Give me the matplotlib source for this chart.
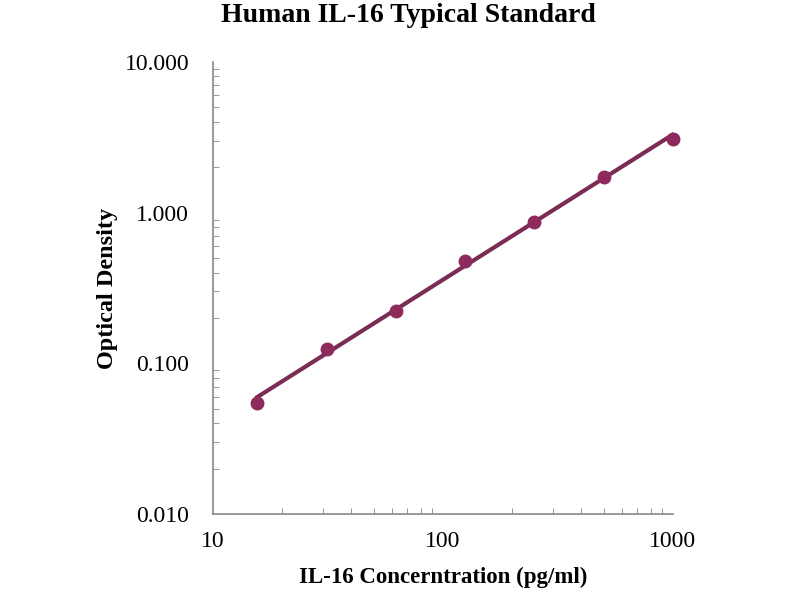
import numpy as np
import matplotlib
matplotlib.use('Agg')
import matplotlib.pyplot as plt
from matplotlib.ticker import FixedLocator, LogLocator, NullFormatter

plt.rcParams['font.family'] = ['Liberation Serif', 'DejaVu Serif']

# standard curve values
conc = [15.6, 31.25, 62.5, 125, 250, 500, 1000]
od = [0.055, 0.125, 0.222, 0.48, 0.87, 1.72, 3.1]

xTicks = [10, 100, 1000]
xLabels = ['10', '100', '1000']
yTicks = [0.01, 0.1, 1, 10]
yLabels = ['0.010', '0.100', '1.000', '10.000']

fig = plt.figure(figsize=(8, 6), dpi=100)
ax = fig.add_axes([0.266, 0.143, 0.575, 0.754])

# power trend line through the points
k, b = np.polyfit(np.log10(conc), np.log10(od), 1)
xs = np.array([conc[0], conc[-1]])
ax.plot(xs, 10 ** (k * np.log10(xs) + b), color='#7A2C55', lw=3, zorder=2)
ax.plot(conc, od, 'o', color='#8E2A5C', ms=9, zorder=3, clip_on=False)

ax.set_xscale('log')
ax.set_yscale('log')
ax.set_xlim(10, 1000)
ax.set_ylim(0.01, 10)

ax.xaxis.set_major_locator(FixedLocator(xTicks))
ax.set_xticklabels(xLabels)
ax.yaxis.set_major_locator(FixedLocator(yTicks))
ax.set_yticklabels(yLabels)
ax.xaxis.set_minor_locator(LogLocator(base=10, subs=np.arange(2, 10)))
ax.yaxis.set_minor_locator(LogLocator(base=10, subs=np.arange(2, 10)))
ax.xaxis.set_minor_formatter(NullFormatter())
ax.yaxis.set_minor_formatter(NullFormatter())

ax.tick_params(which='major', direction='in', length=0, labelsize=17)
ax.tick_params(axis='x', which='major', pad=12)
ax.tick_params(axis='y', which='major', pad=17)
ax.tick_params(which='minor', direction='in', length=4, color='#888888')

for s in ['top', 'right']:
    ax.spines[s].set_visible(False)
for s in ['left', 'bottom']:
    ax.spines[s].set_color('#888888')
    ax.spines[s].set_linewidth(1.2)

ax.set_xlabel('IL-16 Concerntration (pg/ml)', fontsize=16.5, fontweight='bold', labelpad=11)
ax.set_ylabel('Optical Density', fontsize=17.5, fontweight='bold', labelpad=5)
fig.suptitle('Human IL-16 Typical Standard', fontsize=20, fontweight='bold', x=0.51, y=0.995)

fig.savefig('out.png', dpi=100)
